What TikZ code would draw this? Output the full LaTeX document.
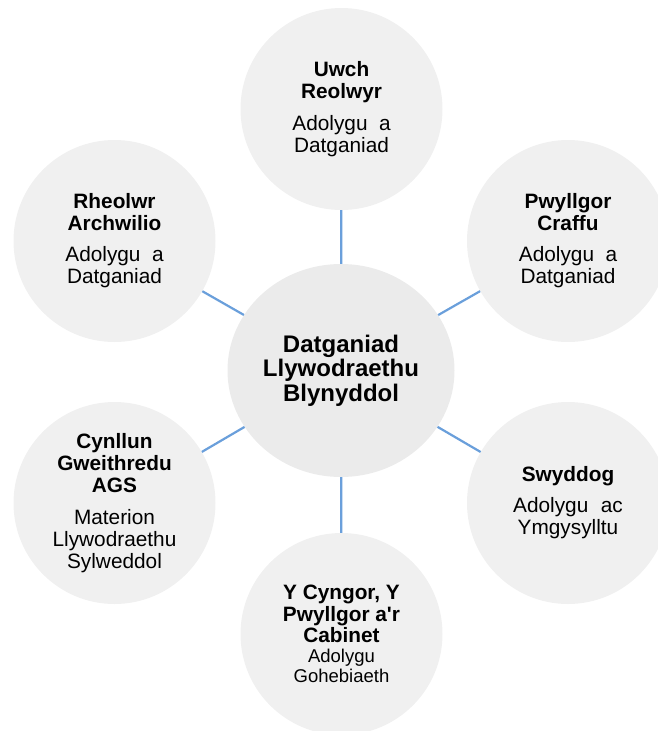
\documentclass[tikz,border=0pt]{standalone}
\usepackage{fontspec}
\setmainfont{Liberation Sans}
\usetikzlibrary{shapes.geometric}
\definecolor{satfill}{HTML}{F0F0F0}
\definecolor{cenfill}{HTML}{EBEBEB}
\definecolor{linkblue}{HTML}{6A9FDB}
\begin{document}
\begin{tikzpicture}[x=1pt,y=-1pt,
  sat/.style={circle, fill=satfill, minimum size=202pt, inner sep=0pt,
    align=center, font=\fontsize{20.8}{22}\selectfont},
  hub/.style={ellipse, fill=cenfill, minimum width=227pt, minimum height=213pt,
    inner sep=0pt, align=center, font=\bfseries\fontsize{24}{24.5}\selectfont},
  link/.style={draw=linkblue, line width=2.2pt}]
\useasboundingbox (0,0) rectangle (658,731);
\node[hub] (c) at (341,370.5) {Datganiad\\Llywodraethu\\Blynyddol};
\node[sat] (top) at (341.5,109) {\textbf{Uwch}\\\textbf{Reolwyr}\\[10pt]Adolygu\hspace{0.55em}a\\Datganiad};
\node[sat] (rt) at (568,241) {\textbf{Pwyllgor}\\\textbf{Craffu}\\[9pt]Adolygu\hspace{0.55em}a\\Datganiad};
\node[sat] (rb) at (568,503) {\textbf{Swyddog}\\[9pt]Adolygu\hspace{0.6em}ac\\Ymgysylltu};
\node[sat, font=\fontsize{20.8}{21.5}\selectfont] (bot) at (341.5,634) {\textbf{Y Cyngor, Y}\\\textbf{Pwyllgor a\textquotesingle r}\\\textbf{Cabinet}\\[-1.5pt]{\fontsize{18.5}{20}\selectfont Adolygu}\\[-1.5pt]{\fontsize{18.5}{20}\selectfont Gohebiaeth}};
\node[sat] (lb) at (114.5,503) {\textbf{Cynllun}\\\textbf{Gweithredu}\\\textbf{AGS}\\[10pt]Materion\\Llywodraethu\\Sylweddol};
\node[sat] (lt) at (114.5,241) {\textbf{Rheolwr}\\\textbf{Archwilio}\\[9pt]Adolygu\hspace{0.55em}a\\Datganiad};
\draw[link] (c) -- (top);
\draw[link] (c) -- (rt);
\draw[link] (c) -- (rb);
\draw[link] (c) -- (bot);
\draw[link] (c) -- (lb);
\draw[link] (c) -- (lt);
\end{tikzpicture}
\end{document}
